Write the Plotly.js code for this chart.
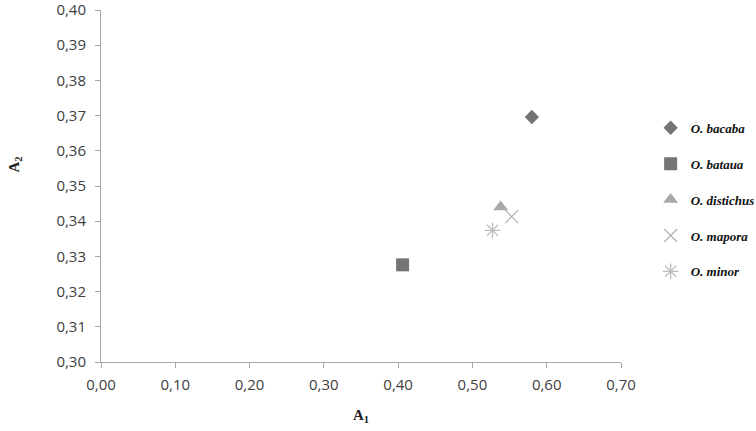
<!DOCTYPE html>
<html>
<head>
<meta charset="utf-8">
<script src="https://cdn.plot.ly/plotly-3.0.1.min.js"></script>
<style>html,body{margin:0;padding:0;background:#fff;}#chart{width:756px;height:431px;}</style>
</head>
<body>
<div id="chart"></div>
<script>
const species = ["O. bacaba", "O. bataua", "O. distichus", "O. mapora", "O. minor"];
const a1Values = [0.580, 0.406, 0.538, 0.553, 0.527];
const a2Values = [0.3696, 0.3276, 0.3440, 0.3413, 0.3374];
const xTicks = [0, 0.1, 0.2, 0.3, 0.4, 0.5, 0.6, 0.7];
const yTicks = [0.30, 0.31, 0.32, 0.33, 0.34, 0.35, 0.36, 0.37, 0.38, 0.39, 0.40];
const xTitle = "<b>A<sub>1</sub></b>";
const yTitle = "<b>A<sub>2</sub></b>";

const styles = [
  {symbol: "diamond", color: "#737373", size: 11, line: {width: 0}},
  {symbol: "square", color: "#757575", size: 13, line: {width: 0}},
  {symbol: "triangle-up", color: "#a9a9a9", size: 13, line: {width: 0}},
  {symbol: "x-thin-open", color: "#b3b3b3", size: 13, line: {width: 1.3, color: "#b3b3b3"}},
  {symbol: "asterisk-open", color: "#bdbdbd", size: 13, line: {width: 1.3, color: "#bdbdbd"}}
];

const traces = species.map((name, i) => ({
  type: "scatter",
  mode: "markers",
  name: name,
  x: [a1Values[i]],
  y: [a2Values[i]],
  legendgroup: "g" + i,
  marker: styles[i],
  cliponaxis: false
}));

const axisCommon = {
  showgrid: false,
  zeroline: false,
  showline: true,
  linecolor: "#a6a6a6",
  linewidth: 1,
  ticks: "outside",
  ticklen: 5,
  tickcolor: "#a6a6a6",
  tickfont: {family: "Open Sans, Liberation Sans, sans-serif", size: 15, color: "#404040"},
  tickformat: ".2f",
  automargin: false,
  ticklabeloverflow: "allow"
};

const titleFont = {family: "Liberation Serif, Times New Roman, serif", size: 15, color: "#222"};

const layout = {
  width: 756,
  height: 431,
  margin: {l: 101, r: 135, t: 10, b: 69, autoexpand: false},
  separators: ", ",
  paper_bgcolor: "#fff",
  plot_bgcolor: "#fff",
  showlegend: true,
  xaxis: Object.assign({}, axisCommon, {
    range: [0, 0.7],
    tickvals: xTicks,
    ticklabelstandoff: 4,
    title: {text: xTitle, font: titleFont, standoff: 16}
  }),
  yaxis: Object.assign({}, axisCommon, {
    range: [0.30, 0.40],
    tickvals: yTicks,
    ticklabelstandoff: 6
  }),
  annotations: [{
    text: yTitle,
    xref: "paper", yref: "paper",
    x: -0.166, y: 0.56,
    xanchor: "center", yanchor: "middle",
    textangle: -90,
    showarrow: false,
    font: titleFont
  }],
  legend: {
    x: 1.057,
    xanchor: "left",
    y: 0.708,
    yanchor: "top",
    traceorder: "grouped",
    tracegroupgap: 16,
    font: {family: "Liberation Serif, Times New Roman, serif", size: 13, color: "#111", weight: "bold", style: "italic"},
    bgcolor: "rgba(0,0,0,0)"
  }
};

Plotly.newPlot("chart", traces, layout, {displayModeBar: false, staticPlot: true});
</script>
</body>
</html>
